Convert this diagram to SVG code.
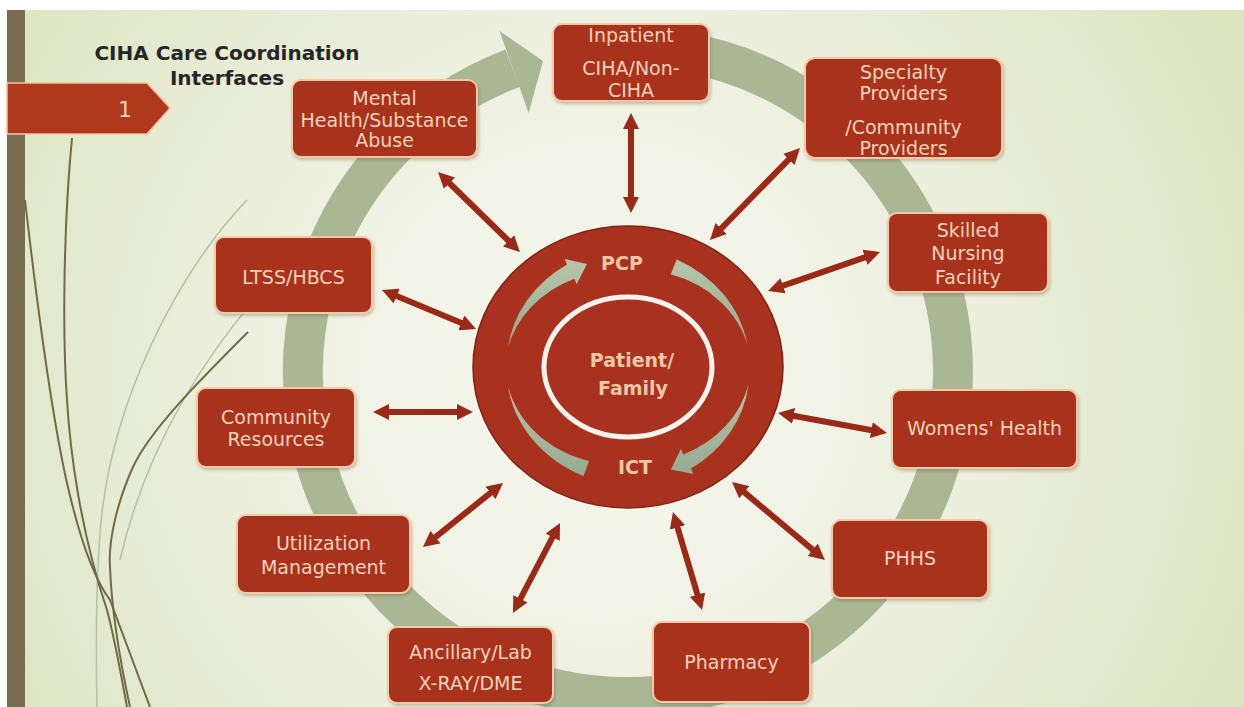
<svg xmlns="http://www.w3.org/2000/svg" width="1244" height="707" viewBox="0 0 1244 707">
  <defs>
    <radialGradient id="bg" cx="600" cy="380" r="720" gradientUnits="userSpaceOnUse">
      <stop offset="0" stop-color="#f6f7ef"/>
      <stop offset="0.45" stop-color="#eef1e1"/>
      <stop offset="1" stop-color="#dce4c0"/>
    </radialGradient>
    <linearGradient id="inner" x1="0" y1="0" x2="0" y2="1">
      <stop offset="0" stop-color="#b6c5a6"/>
      <stop offset="1" stop-color="#97aa92"/>
    </linearGradient>
    <filter id="sh" x="-10%" y="-10%" width="120%" height="130%">
      <feDropShadow dx="1" dy="2" stdDeviation="1.5" flood-color="#5a3a20" flood-opacity="0.3"/>
    </filter>
    <marker id="ah" viewBox="0 0 16 16" refX="6" refY="8" markerWidth="16" markerHeight="16" markerUnits="userSpaceOnUse" orient="auto-start-reverse">
      <path d="M0,0 L16,8 L0,16 z" fill="#9a2a17"/>
    </marker>
    <style>
      .box { fill: #a9311c; stroke: #f3caa8; stroke-width: 2; filter: url(#sh); }
      .bt { font-family: "DejaVu Sans", "Liberation Sans", sans-serif; font-size: 19px; fill: #f3d3bb; text-anchor: middle; }
      .ct { font-family: "DejaVu Sans", "Liberation Sans", sans-serif; font-size: 19px; font-weight: bold; fill: #efc7a7; text-anchor: middle; }
      .title { font-family: "DejaVu Sans", "Liberation Sans", sans-serif; font-size: 20px; font-weight: bold; fill: #262626; text-anchor: middle; }
      .conn { stroke: #9a2a17; stroke-width: 6; fill: none; marker-start: url(#ah); marker-end: url(#ah); }
      .deco { fill: none; stroke: #6f6a48; stroke-width: 2; }
      .decol { fill: none; stroke: #b9bf9f; stroke-width: 1.5; }
      .garc { fill: url(#inner); }
    </style>
  </defs>

  <!-- background -->
  <rect x="0" y="0" width="1244" height="707" fill="#ffffff"/>
  <rect x="7" y="10" width="1237" height="697" fill="url(#bg)"/>
  <rect x="7" y="10" width="18" height="697" fill="#776b50"/>

  <!-- decorative sweeping lines -->
  <path class="decol" d="M247 200 C180 270 110 400 100 533 C95 600 96 660 97 707"/>
  <path class="decol" d="M300 250 C220 330 150 430 120 560"/>
  <path class="deco" d="M25 200 C40 330 55 430 67 483 C80 540 95 580 110 600 C125 640 140 680 150 707"/>
  <path class="deco" d="M72 138 C64 220 62 330 67 400 C70 450 80 530 107 610 C115 640 122 680 127 707"/>
  <path class="deco" stroke-width="1.6" d="M248 332 C200 380 150 430 133 467 C118 500 108 540 110 567 C112 620 122 670 130 707"/>

  <!-- big sage ring with arrowhead -->
  <g id="ring">
    <path d="M684.4 52 A325 325 0 1 1 512.6 68.2" fill="none" stroke="#a9b795" stroke-width="40"/>
    <polygon points="499.5,31 543,61 528.6,113" fill="#a9b795"/>
  </g>

  <!-- title -->
  <g id="title">
    <text class="title" x="227" y="60">CIHA Care Coordination</text>
    <text class="title" x="227" y="85">Interfaces</text>
  </g>

  <!-- tag 1 -->
  <g id="tag">
    <polygon points="7,83 147,83 170,108 147,134 7,134" fill="#b0381d" stroke="#f0c4a2" stroke-width="1.5"/>
    <text x="125" y="117" font-family="DejaVu Sans, Liberation Sans, sans-serif" font-size="22" fill="#f3d3bb" text-anchor="middle">1</text>
  </g>

  <!-- connectors -->
  <g id="connectors">
    <line class="conn" x1="631" y1="123" x2="631" y2="203"/>
    <line class="conn" x1="793" y1="155.2" x2="717" y2="232.8"/>
    <line class="conn" x1="445.2" y1="179" x2="512.8" y2="245"/>
    <line class="conn" x1="391.2" y1="293.8" x2="466.8" y2="325.2"/>
    <line class="conn" x1="870.6" y1="255.3" x2="777.4" y2="287.7"/>
    <line class="conn" x1="787.8" y1="414.8" x2="877.2" y2="431.2"/>
    <line class="conn" x1="383" y1="412" x2="463" y2="412"/>
    <line class="conn" x1="430.8" y1="540.8" x2="495.2" y2="489.2"/>
    <line class="conn" x1="517.6" y1="604.1" x2="555.4" y2="531.9"/>
    <line class="conn" x1="675.8" y1="521.6" x2="699.2" y2="600.4"/>
    <line class="conn" x1="739.7" y1="488.4" x2="817.3" y2="553.6"/>
  </g>

  <!-- center hub -->
  <g id="hub">
    <ellipse cx="628" cy="367" rx="155" ry="141" fill="#a9321f" stroke="#7d2314" stroke-width="1.5"/>
    <path class="garc" d="M507.9 348.2 A130 116 0 0 1 567 264.6 L564.7 258.9 L587 264 L576.7 284.3 L574.5 278.7 A114 100 0 0 0 507.9 348.2 Z"/>
    <path class="garc" d="M676.7 259.4 A130 116 0 0 1 747.3 344.5 A114 100 0 0 0 670.7 274.3 Z"/>
    <path class="garc" d="M748.5 383.9 A130 116 0 0 1 691 468.5 L693.3 474.1 L670.9 469.4 L680.9 448.9 L683.3 454.5 A114 100 0 0 0 748.5 383.9 Z"/>
    <path class="garc" d="M583.5 476 A130 116 0 0 1 507.9 385.7 A114 100 0 0 0 589 461 Z"/>
    <ellipse cx="628" cy="367" rx="84" ry="70" fill="#a8321f" stroke="#fbf4ee" stroke-width="5"/>
    <text class="ct" x="622" y="270">PCP</text>
    <text class="ct" x="632" y="367">Patient/</text>
    <text class="ct" x="633" y="395">Family</text>
    <text class="ct" x="635" y="474">ICT</text>
  </g>

  <!-- nodes -->
  <g id="inpatient">
    <rect class="box" x="553" y="24" width="156" height="77" rx="9"/>
    <text class="bt" x="631" y="42">Inpatient</text>
    <text class="bt" x="631" y="75">CIHA/Non-</text>
    <text class="bt" x="631" y="97">CIHA</text>
  </g>
  <g id="specialty">
    <rect class="box" x="805" y="58" width="197" height="100" rx="10"/>
    <text class="bt" x="903.5" y="79">Specialty</text>
    <text class="bt" x="903.5" y="100">Providers</text>
    <text class="bt" x="903.5" y="134">/Community</text>
    <text class="bt" x="903.5" y="155">Providers</text>
  </g>
  <g id="mental-health">
    <rect class="box" x="292" y="80" width="185" height="77" rx="9"/>
    <text class="bt" x="384.5" y="105" font-size="18">Mental</text>
    <text class="bt" x="384.5" y="127" font-size="18">Health/Substance</text>
    <text class="bt" x="384.5" y="147" font-size="18">Abuse</text>
  </g>
  <g id="ltss">
    <rect class="box" x="215" y="237" width="157" height="76" rx="9"/>
    <text class="bt" x="293.5" y="284" font-size="18">LTSS/HBCS</text>
  </g>
  <g id="skilled-nursing">
    <rect class="box" x="888" y="213" width="160" height="79" rx="9"/>
    <text class="bt" x="968" y="237">Skilled</text>
    <text class="bt" x="968" y="260">Nursing</text>
    <text class="bt" x="968" y="284">Facility</text>
  </g>
  <g id="womens-health">
    <rect class="box" x="892" y="390" width="185" height="78" rx="9"/>
    <text class="bt" x="984.5" y="435" font-size="20">Womens' Health</text>
  </g>
  <g id="community">
    <rect class="box" x="197" y="388" width="158" height="79" rx="9"/>
    <text class="bt" x="276" y="424" font-size="20">Community</text>
    <text class="bt" x="276" y="446" font-size="20">Resources</text>
  </g>
  <g id="utilization">
    <rect class="box" x="237" y="515" width="173" height="78" rx="9"/>
    <text class="bt" x="323.5" y="550">Utilization</text>
    <text class="bt" x="323.5" y="574">Management</text>
  </g>
  <g id="phhs">
    <rect class="box" x="832" y="520" width="156" height="78" rx="9"/>
    <text class="bt" x="910" y="565" font-size="18">PHHS</text>
  </g>
  <g id="pharmacy">
    <rect class="box" x="653" y="622" width="157" height="80" rx="9"/>
    <text class="bt" x="731.5" y="669" font-size="20">Pharmacy</text>
  </g>
  <g id="ancillary">
    <rect class="box" x="388" y="627" width="165" height="76" rx="9"/>
    <text class="bt" x="470.5" y="659">Ancillary/Lab</text>
    <text class="bt" x="470.5" y="690">X-RAY/DME</text>
  </g>
</svg>
